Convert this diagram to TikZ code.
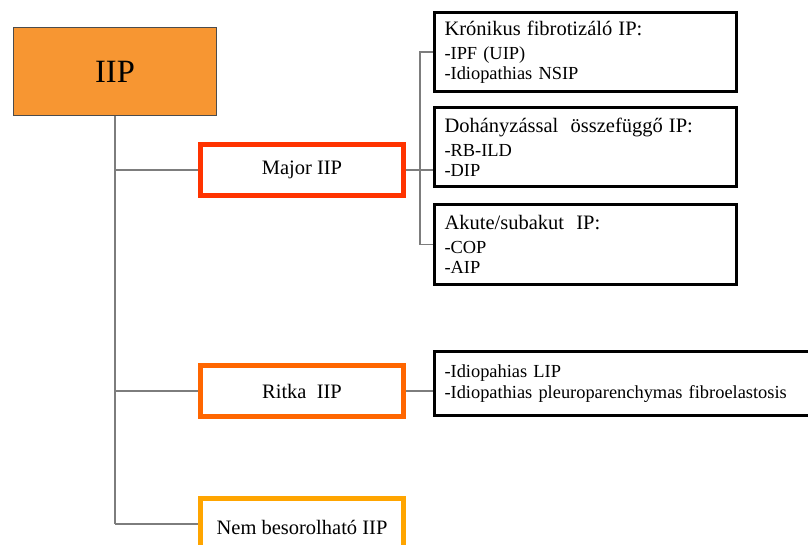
\documentclass[tikz,border=0pt]{standalone}
\usepackage{fontspec}
\setmainfont{Liberation Serif}
\definecolor{iipfill}{RGB}{247,150,50}
\definecolor{majorc}{RGB}{255,51,0}
\definecolor{ritkac}{RGB}{255,102,0}
\definecolor{nemc}{RGB}{255,165,0}
\definecolor{linec}{RGB}{125,125,125}
\tikzset{
  levelbox/.style={draw=#1, line width=5pt, fill=white, minimum width=203pt, minimum height=51pt, inner sep=0pt, font=\fontsize{20.5}{24}\selectfont},
  infobox/.style={draw=black, line width=3pt, fill=white, minimum width=302pt, minimum height=79pt, text width=282pt, inner xsep=10pt, inner ysep=0pt, align=left, font=\fontsize{18.4}{20}\selectfont},
  headtxt/.style={},
  conn/.style={draw=linec, line width=1.2pt}
}
\newcommand{\hd}[1]{{\fontsize{20.5}{23}\selectfont #1}}
\begin{document}
\begin{tikzpicture}[x=1pt,y=-1pt]
\clip (0,0) rectangle (808,545);
\fill[white] (0,0) rectangle (808,545);
\node[draw=black!70, line width=1pt, fill=iipfill, minimum width=203pt, minimum height=88pt, inner sep=0pt, font=\fontsize{32.5}{36}\selectfont] (iip) at (115,71.5) {IIP};
\node[levelbox=majorc] (major) at (302,170) {Major IIP};
\node[levelbox=ritkac] (ritka) at (302,391) {Ritka\ \ IIP};
\node[levelbox=nemc, minimum height=60pt] (nem) at (302,528) {\raisebox{2pt}{Nem besorolható IIP}};
\coordinate (nemrow) at (302,524);
\node[infobox] (kron) at (585.5,52) {\hd{Krónikus fibrotizáló IP:}\\[4pt]-IPF (UIP)\\-Idiopathias NSIP};
\node[infobox] (doh) at (585.5,147.5) {\hd{Dohányzással\ \ összefüggő IP:}\\[4pt]-RB-ILD\\-DIP};
\node[infobox] (akut) at (585.5,244.5) {\hd{Akute/subakut\ \ IP:}\\[4pt]-COP\\-AIP};
\node[infobox, minimum width=420pt, text width=400pt, minimum height=64pt, font=\fontsize{18.4}{21}\selectfont] (lip) at (644.5,383.5) {-Idiopahias LIP\\-Idiopathias pleuroparenchymas fibroelastosis};
\coordinate (br) at (420,0);
\draw[conn] (iip.south) -- (iip.south |- nemrow);
\draw[conn] (iip.south |- major.west) -- (major.west);
\draw[conn] (iip.south |- ritka.west) -- (ritka.west);
\draw[conn] (iip.south |- nemrow) -- (nem.west |- nemrow);
\draw[conn] (kron.west) -- (kron.west -| br) -- (akut.west -| br) -- (akut.west);
\draw[conn] (major.east) -- (major.east -| doh.west);
\draw[conn] (ritka.east) -- (ritka.east -| lip.west);
\end{tikzpicture}
\end{document}
